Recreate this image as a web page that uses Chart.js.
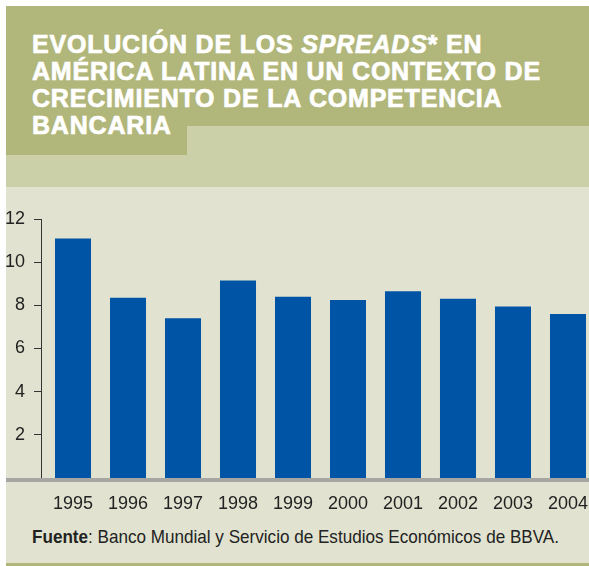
<!DOCTYPE html>
<html>
<head>
<meta charset="utf-8">
<script src="https://cdn.jsdelivr.net/npm/chart.js@4/dist/chart.umd.min.js"></script>
<style>
  html, body { margin:0; padding:0; background:#ffffff; }
  body { width:589px; height:566px; position:relative; overflow:hidden; }
  .blk { position:absolute; }
  #dark1 { left:6px; top:6px; width:583px; height:120px; background:#B1B67B; }
  #light { left:6px; top:126px; width:583px; height:61px; background:#CBD0A9; }
  #dark2 { left:6px; top:126px; width:181px; height:29px; background:#B1B67B; }
  #chartbg { left:6px; top:187px; width:583px; height:376px; background:#E1E3D0; }
  #band { left:6px; top:563px; width:583px; height:3px; background:#B1B67B; }
  #title { position:absolute; left:32px; top:31px; color:#ffffff;
    font-family:"Liberation Sans", Arial, sans-serif; font-weight:bold; font-size:25px;
    line-height:27px; letter-spacing:0.8px; white-space:nowrap;
    -webkit-text-stroke:0.7px #ffffff; }
  #title i { font-style:italic; }
  #wrap { position:absolute; left:0; top:188px; width:589px; height:332px; }
  #footer { position:absolute; left:32px; top:527px; color:#222222;
    font-family:"Liberation Sans", Arial, sans-serif;
    font-size:19px; line-height:20px; white-space:nowrap; transform-origin:0 0; }
</style>
</head>
<body>
<div class="blk" id="dark1"></div>
<div class="blk" id="light"></div>
<div class="blk" id="dark2"></div>
<div class="blk" id="chartbg"></div>
<div class="blk" id="band"></div>
<div id="title">EVOLUCIÓN DE LOS <i>SPREADS</i>* EN<br>AMÉRICA LATINA EN UN CONTEXTO DE<br>CRECIMIENTO DE LA COMPETENCIA<br>BANCARIA</div>
<div id="wrap"><canvas id="c"></canvas></div>
<div id="footer"><b>Fuente</b>: Banco Mundial y Servicio de Estudios Económicos de BBVA.</div>
<script>
const categories = ["1995","1996","1997","1998","1999","2000","2001","2002","2003","2004"];
const spreads = [11.1, 8.35, 7.4, 9.15, 8.4, 8.25, 8.65, 8.3, 7.95, 7.6];
const yTicks = [0, 2, 4, 6, 8, 10, 12];

// condense footer text to the width of the reference
(function () {
  const f = document.getElementById('footer');
  const w = f.getBoundingClientRect().width;
  f.style.transform = 'scaleX(' + (527 / w) + ')';
})();

const tickFont = { family: '"Liberation Sans", Arial, sans-serif', size: 18 };

const baseline = {
  id: 'baseline',
  afterDatasetsDraw(chart) {
    const ctx = chart.ctx;
    const y0 = chart.scales.y.getPixelForValue(0);
    ctx.save();
    ctx.fillStyle = '#A6A6A3';
    ctx.fillRect(6, y0, chart.width - 6, 4);
    ctx.restore();
  }
};

new Chart(document.getElementById('c'), {
  type: 'bar',
  data: {
    datasets: [{
      data: spreads.map((v, i) => ({ x: i, y: v })),
      backgroundColor: '#0054A5',
      borderWidth: 0,
      categoryPercentage: 1,
      barPercentage: 0.655
    }]
  },
  options: {
    responsive: true,
    maintainAspectRatio: false,
    animation: false,
    events: [],
    layout: { padding: { top: 31, left: 0, right: 0, bottom: 0 } },
    plugins: { legend: { display: false }, tooltip: { enabled: false } },
    scales: {
      x: {
        type: 'linear',
        offset: false,
        min: -0.582,
        max: 9.382,
        afterBuildTicks(scale) { scale.ticks = categories.map((c, i) => ({ value: i })); },
        afterFit(scale) { scale.height = 42; scale.paddingLeft = 0; scale.paddingRight = 0; },
        grid: { display: false, drawTicks: false },
        border: { display: false },
        ticks: {
          autoSkip: false,
          maxRotation: 0,
          padding: 15,
          color: '#222222',
          font: tickFont,
          callback: (v) => categories[v]
        }
      },
      y: {
        min: 0,
        max: 12,
        afterBuildTicks(scale) { scale.ticks = yTicks.map(v => ({ value: v })); },
        afterFit(scale) { scale.width = 41; },
        grid: { drawOnChartArea: false, drawTicks: true, tickLength: 7, color: '#333333', lineWidth: 1 },
        border: { display: true, color: '#333333', width: 1 },
        ticks: {
          padding: 9,
          color: '#222222',
          font: tickFont,
          callback: (v) => (v === 0 ? null : String(v))
        }
      }
    }
  },
  plugins: [baseline]
});
</script>
</body>
</html>
